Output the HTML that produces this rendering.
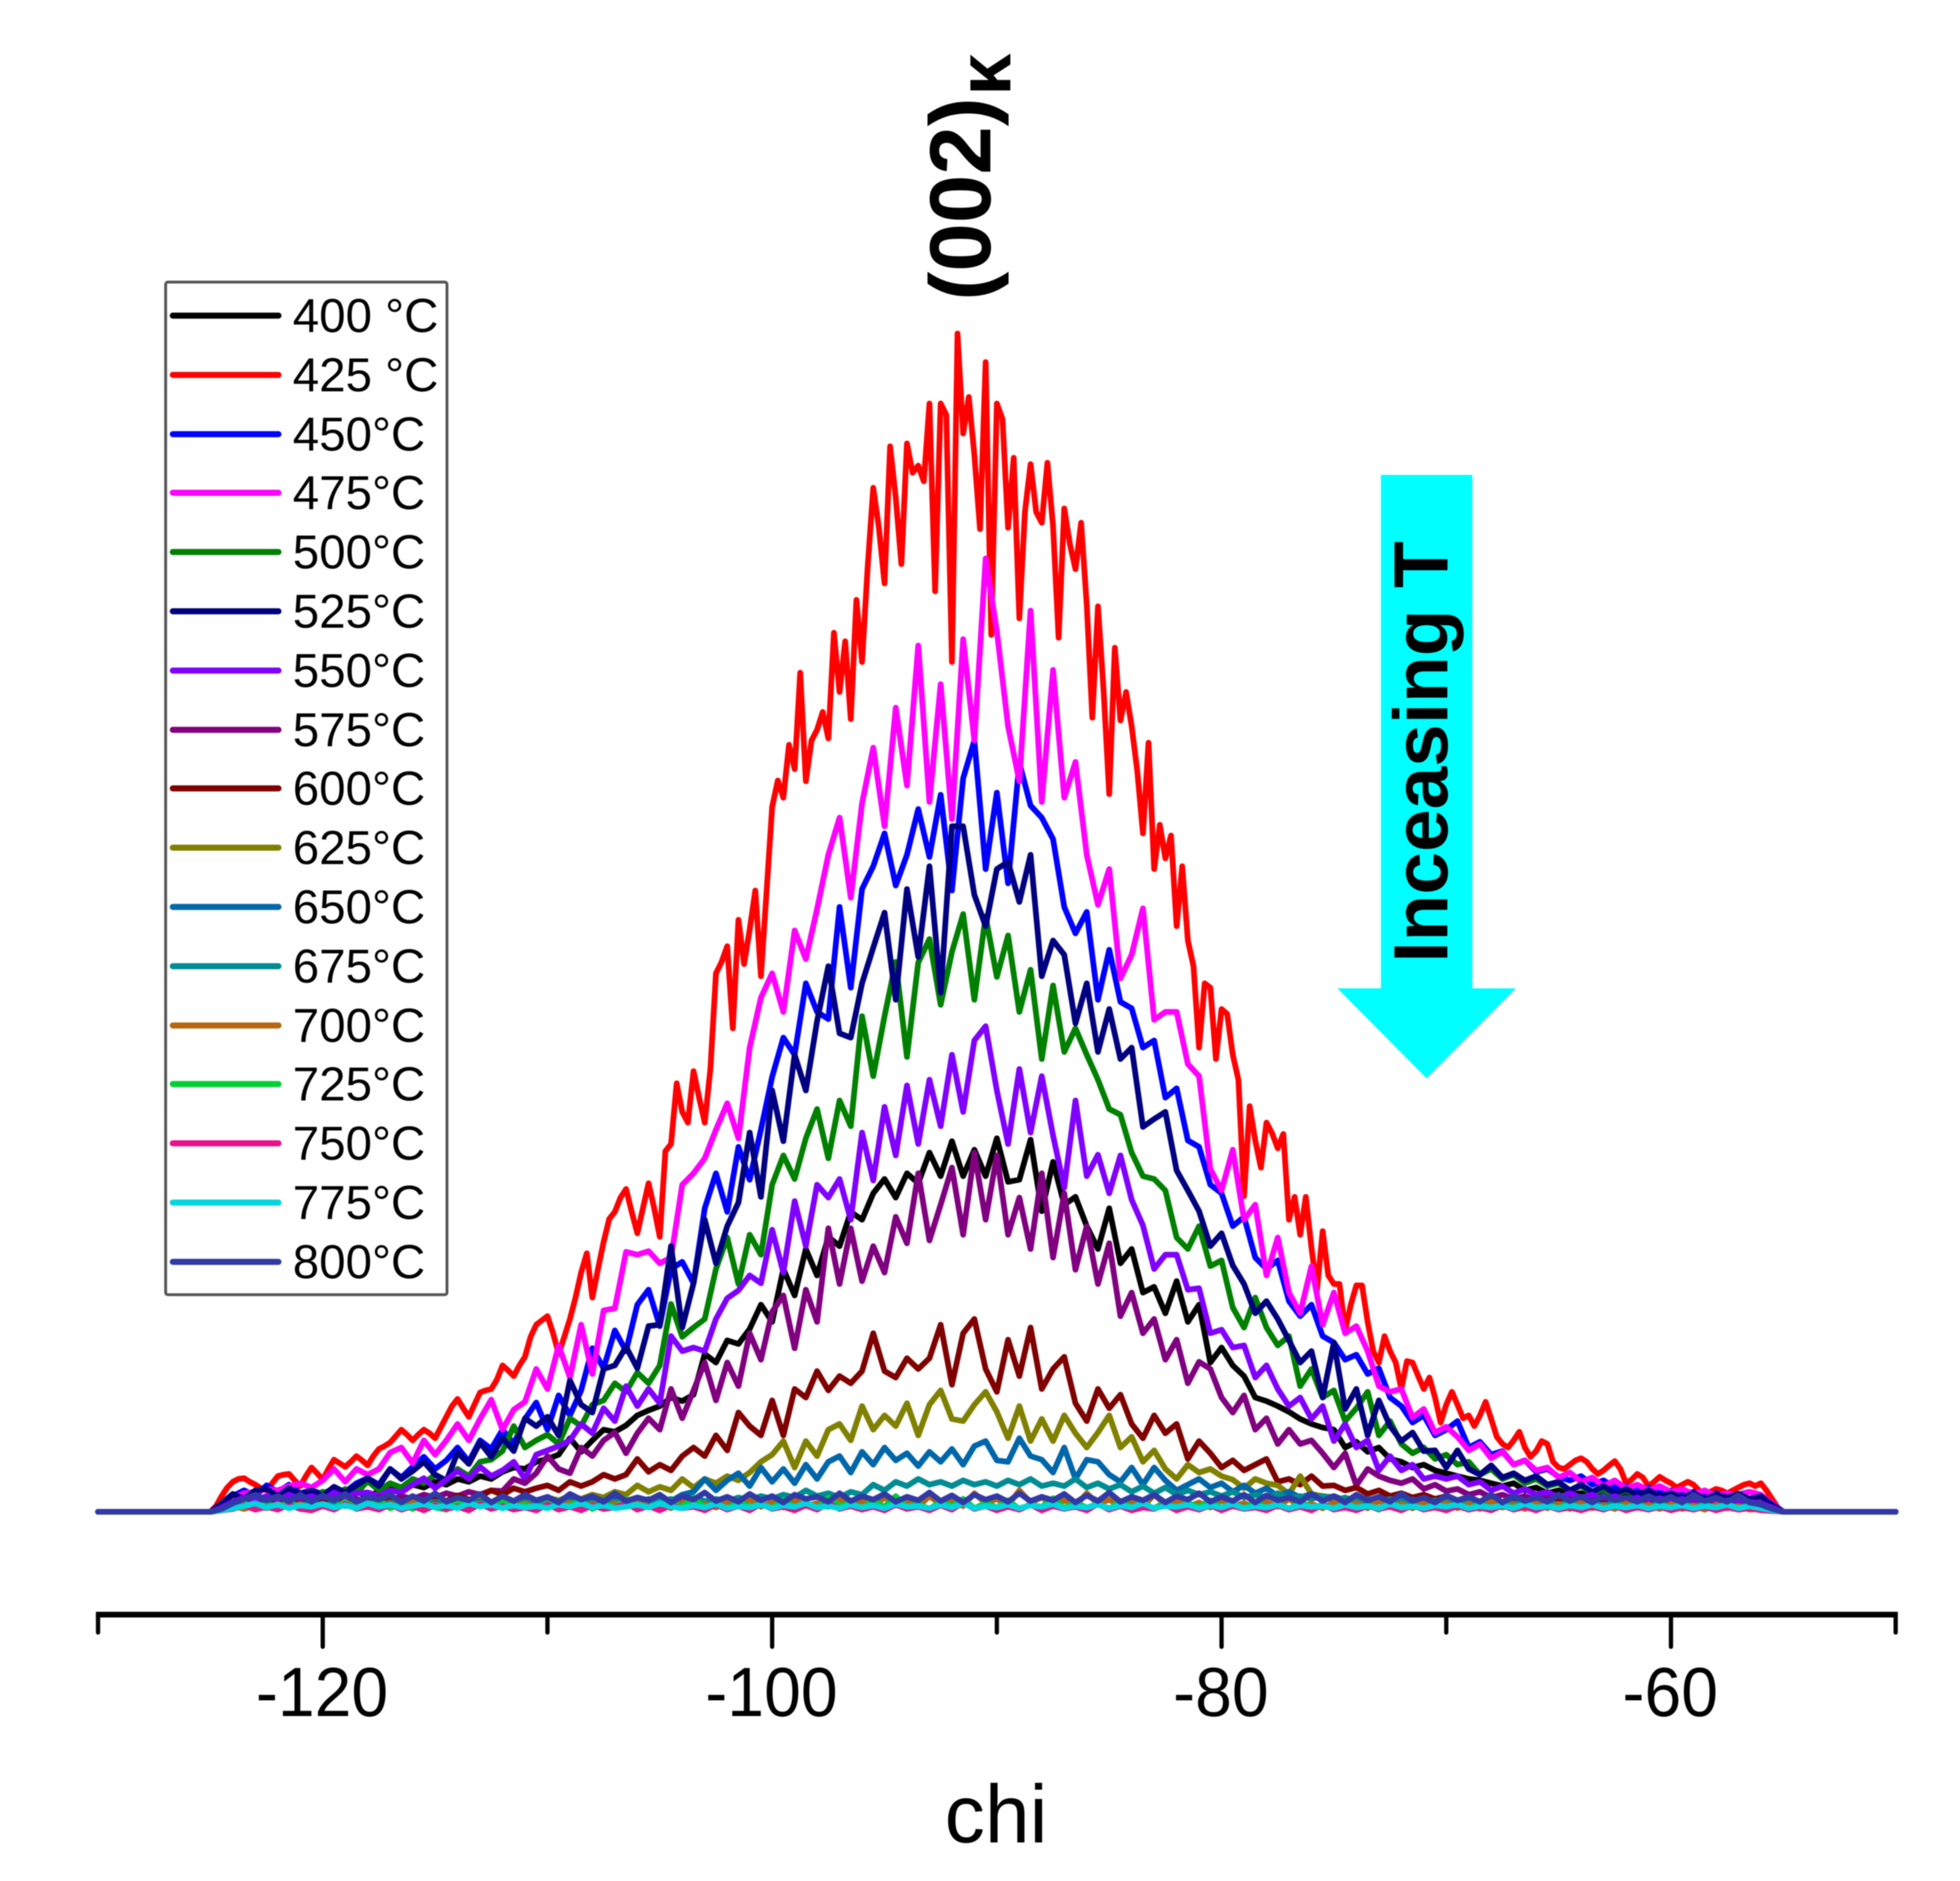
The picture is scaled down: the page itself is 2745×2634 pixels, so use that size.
<!DOCTYPE html>
<html lang="en">
<head>
<meta charset="utf-8">
<title>(002) chi scans with increasing temperature</title>
<style>
  html, body { margin: 0; padding: 0; background: #ffffff; }
  svg { display: block; filter: blur(0.7px); }
  text { font-family: "Liberation Sans", "DejaVu Sans", sans-serif; fill: #000; }
</style>
</head>
<body>
<svg id="chart" xmlns="http://www.w3.org/2000/svg" width="2745" height="2634" viewBox="0 0 2745 2634">
  <rect x="0" y="0" width="2745" height="2634" fill="#ffffff"/>
  <g id="series-layer"></g>
  <g id="axis-layer"></g>

  <text transform="translate(1395,2580) scale(.98,1)" text-anchor="middle" font-size="115">chi</text>

  <text transform="translate(1387,421) rotate(-90)" font-size="122" font-weight="bold">(002)</text>
  <text transform="translate(1415,134) rotate(-90)" font-size="106" font-weight="bold">κ</text>

  <polygon fill="#00ffff" points="1934,665 2062,665 2062,1384 2123,1384 1998,1510 1873,1384 1934,1384"/>
  <text transform="translate(2027,1348) rotate(-90)" font-size="108" font-weight="bold" textLength="590" lengthAdjust="spacingAndGlyphs">Inceasing T</text>

  <g>
    <rect x="232" y="395" width="394" height="1418" rx="3" fill="#ffffff" stroke="#555555" stroke-width="4"/>
    <g stroke-width="8.5" stroke-linecap="round" font-size="66.5">
      <line x1="242" x2="390" y1="442" y2="442" stroke="#000000"/>
      <text x="410" y="465" stroke="none">400 °C</text>
      <line x1="242" x2="390" y1="525" y2="525" stroke="#ff0000"/>
      <text x="410" y="548" stroke="none">425 °C</text>
      <line x1="242" x2="390" y1="608" y2="608" stroke="#0000ff"/>
      <text x="410" y="631" stroke="none">450°C</text>
      <line x1="242" x2="390" y1="690" y2="690" stroke="#ff00ff"/>
      <text x="410" y="713" stroke="none">475°C</text>
      <line x1="242" x2="390" y1="773" y2="773" stroke="#008000"/>
      <text x="410" y="796" stroke="none">500°C</text>
      <line x1="242" x2="390" y1="856" y2="856" stroke="#000080"/>
      <text x="410" y="879" stroke="none">525°C</text>
      <line x1="242" x2="390" y1="939" y2="939" stroke="#8000ff"/>
      <text x="410" y="962" stroke="none">550°C</text>
      <line x1="242" x2="390" y1="1022" y2="1022" stroke="#800080"/>
      <text x="410" y="1045" stroke="none">575°C</text>
      <line x1="242" x2="390" y1="1104" y2="1104" stroke="#800000"/>
      <text x="410" y="1127" stroke="none">600°C</text>
      <line x1="242" x2="390" y1="1187" y2="1187" stroke="#808000"/>
      <text x="410" y="1210" stroke="none">625°C</text>
      <line x1="242" x2="390" y1="1270" y2="1270" stroke="#0066aa"/>
      <text x="410" y="1293" stroke="none">650°C</text>
      <line x1="242" x2="390" y1="1353" y2="1353" stroke="#008c94"/>
      <text x="410" y="1376" stroke="none">675°C</text>
      <line x1="242" x2="390" y1="1436" y2="1436" stroke="#b5660f"/>
      <text x="410" y="1459" stroke="none">700°C</text>
      <line x1="242" x2="390" y1="1518" y2="1518" stroke="#00d033"/>
      <text x="410" y="1541" stroke="none">725°C</text>
      <line x1="242" x2="390" y1="1601" y2="1601" stroke="#e9118a"/>
      <text x="410" y="1624" stroke="none">750°C</text>
      <line x1="242" x2="390" y1="1684" y2="1684" stroke="#00d6de"/>
      <text x="410" y="1707" stroke="none">775°C</text>
      <line x1="242" x2="390" y1="1767" y2="1767" stroke="#3139a6"/>
      <text x="410" y="1790" stroke="none">800°C</text>
    </g>
  </g>
</svg>

<script>
const majorTicks = [-120, -100, -80, -60];
const minorTicks = [-130, -110, -90, -70, -50];
const temperatures = [400, 425, 450, 475, 500, 525, 550, 575, 600, 625, 650, 675, 700, 725, 750, 775, 800];

const series400 = [
0,5,12,16,12,18,14,20,15,22,
16,24,20,28,22,28,34,30,38,34,
42,38,46,42,50,46,56,62,60,70,
74,80,103,84,100,115,112,121,135,142,
148,160,155,164,221,209,240,235,256,290,
266,340,303,368,331,385,372,420,409,446,
466,440,474,460,503,470,519,470,507,470,
523,462,465,521,421,490,430,441,400,368,
425,348,368,307,315,278,323,266,290,209,
230,205,190,160,155,148,140,130,123,118,
115,90,98,84,90,74,70,62,66,58,
54,50,46,44,40,36,40,30,34,26,
30,24,26,20,24,18,22,16,20,15,
18,13,16,12,14,11,13,10,12,6,0];

const series425 = [
0,8,22,34,42,46,47,42,38,33,30,40,50,52,53,44,36,50,62,54,45,60,73,68,63,70,78,72,65,78,88,92,97,106,115,108,100,108,115,110,
103,118,133,148,158,145,133,150,167,170,172,185,205,198,190,205,217,245,262,268,274,250,221,245,270,300,335,362,300,340,378,410,420,440,452,420,390,425,460,425,
385,505,515,600,560,545,617,580,545,620,754,770,792,677,829,767,815,870,750,867,987,1024,1000,1074,1040,1175,1023,1080,1095,1120,1083,1231,1148,1219,1110,1277,1190,1322,1434,1378,
1300,1492,1420,1327,1496,1455,1465,1443,1552,1289,1552,1536,1190,1650,1510,1561,1480,1376,1610,1228,1552,1530,1378,1476,1251,1400,1467,1400,1385,1469,1380,1224,1405,1355,1320,1385,1270,1112,1268,1150,
1005,1210,1108,1148,1100,1037,950,1077,900,962,915,947,820,904,800,764,650,740,734,634,704,697,640,605,442,568,520,482,545,530,509,529,409,441,388,441,370,311,393,331,
319,319,254,290,317,317,266,225,209,246,225,209,172,211,209,190,172,188,160,125,150,168,150,131,135,120,135,154,130,105,95,90,100,112,90,77,85,99,95,70,
62,60,66,72,75,70,60,53,58,65,71,60,40,45,53,48,36,42,49,44,40,34,38,42,38,30,25,28,32,30,26,30,34,38,40,36,40,30,18,6,0];

const series450 = [
0,8,22,30,22,37,28,38,26,30,
25,33,28,40,47,38,60,48,63,77,
60,72,90,70,100,88,115,95,130,153,
115,163,135,170,229,201,254,225,290,311,
260,340,350,320,425,474,420,511,465,535,
609,664,640,740,700,690,847,734,872,904,
950,877,920,984,917,1004,870,1027,1080,900,
1007,880,1049,989,972,942,847,810,840,717,
787,714,705,650,660,580,593,520,511,458,
446,400,413,356,340,352,295,274,290,246,
237,213,220,193,201,160,148,125,135,107,
115,127,90,98,80,85,66,72,56,60,
49,44,50,38,44,34,36,31,34,26,
30,24,28,22,26,20,24,28,22,12,0];

const series475 = [
0,10,20,26,28,32,30,36,40,34,
44,60,42,60,52,60,83,90,68,100,
80,100,123,100,130,157,115,143,154,200,
172,233,188,262,193,282,285,364,360,365,
348,356,458,474,495,535,572,523,650,720,
754,700,814,774,844,920,972,860,992,1070,
960,1126,1017,1213,994,1159,970,1222,1080,1335,
1233,1100,1023,1262,994,1179,1000,1050,920,850,
900,747,780,845,689,700,700,627,610,480,
450,507,409,430,331,384,307,278,344,262,
307,250,260,225,176,168,172,132,144,111,
119,105,86,95,75,84,66,72,58,62,
48,55,42,48,36,44,33,38,30,36,
28,32,25,30,22,26,22,28,24,12,0];

const series500 = [
0,8,16,20,18,18,22,20,26,20,
28,22,32,26,43,30,40,34,46,40,
52,44,60,50,70,73,85,120,90,100,
108,95,131,120,150,156,180,168,195,180,
205,291,245,258,270,340,384,319,388,360,
458,499,466,523,564,495,576,540,694,610,
694,770,637,769,802,710,784,837,717,834,
749,807,700,759,634,737,644,677,640,605,
564,556,503,470,466,450,384,368,400,344,
352,286,258,300,258,233,246,176,200,160,
170,127,145,168,107,127,95,82,90,74,
80,66,70,52,60,46,52,40,46,36,
40,30,36,26,32,24,30,22,26,20,
24,18,22,16,20,15,20,14,18,8,0];

const series525 = [
0,12,25,18,30,32,22,33,24,30,
22,35,27,37,47,36,60,46,57,70,
52,43,83,67,97,77,103,85,131,120,
133,107,184,150,139,200,205,231,201,260,
262,372,258,320,409,348,400,433,531,441,
590,519,640,590,687,764,670,664,740,790,
839,717,872,777,904,727,960,960,864,820,
900,910,854,920,750,800,780,684,740,644,
704,634,650,539,550,560,478,450,421,372,
390,345,319,278,295,270,240,209,225,160,
237,144,172,107,156,120,99,111,85,86,
62,86,60,52,65,48,54,44,50,38,
42,30,38,28,36,26,32,24,30,22,
26,20,26,18,24,20,25,18,22,10,0];

const series550 = [
0,6,14,20,16,22,16,24,18,22,
16,27,20,26,27,22,30,27,38,47,
33,45,57,46,63,50,58,70,46,80,
86,92,100,123,110,145,127,176,148,172,
152,246,225,230,225,270,299,310,331,320,
395,335,435,372,458,440,466,409,531,464,
567,499,597,515,605,540,640,560,660,680,
590,515,620,531,610,527,454,576,470,500,
446,499,437,401,340,360,360,311,313,250,
255,230,233,188,205,172,148,160,130,148,
99,123,90,100,58,78,58,66,46,50,
46,50,38,42,30,36,26,32,24,28,
20,26,20,24,18,22,16,20,15,19,
14,18,13,16,13,16,12,14,12,6,0];

const series575 = [
0,4,9,13,10,14,10,16,11,15,
11,16,13,18,14,20,16,22,18,24,
20,26,22,28,24,30,29,46,40,54,
78,60,54,90,78,100,111,82,110,131,
115,172,131,170,209,156,209,176,250,213,
280,303,229,311,266,397,319,397,323,372,
335,413,376,474,380,430,482,388,503,409,
499,388,440,368,474,356,446,339,400,319,
376,274,307,250,270,213,241,180,210,200,
160,139,163,115,131,95,115,95,100,82,
62,82,37,60,50,44,40,46,32,38,
29,32,24,28,20,24,18,22,16,20,
14,18,13,16,12,15,11,14,10,13,
9,12,9,12,8,11,8,10,8,4,0];

const series600 = [
0,3,8,6,10,7,11,8,12,9,
13,10,14,11,15,12,16,13,17,14,
18,15,23,17,22,30,24,33,28,33,
37,30,42,36,42,52,46,52,74,56,
66,58,78,90,78,107,86,139,120,107,
156,107,172,160,197,170,190,180,197,250,
197,188,215,200,215,262,178,250,270,200,
168,241,190,258,172,200,217,152,127,172,
145,164,123,103,135,110,123,74,99,82,
62,72,58,66,74,42,46,38,50,36,
37,30,34,25,30,22,26,20,24,18,
22,16,20,14,18,13,16,12,15,11,
14,10,13,9,12,9,11,8,10,7,
10,7,9,6,9,6,8,5,4,2,0];

const series625 = [
0,3,10,6,9,6,10,7,11,8,
11,8,12,9,12,9,13,10,14,11,
14,11,15,12,16,13,17,14,18,15,
20,16,22,18,24,20,28,24,37,28,
35,30,46,34,46,40,50,44,55,70,
80,99,62,99,78,115,123,100,148,115,
135,120,152,107,150,170,130,127,150,168,
140,103,148,99,130,99,135,110,90,111,
135,90,105,70,86,60,46,66,55,60,
50,45,33,46,40,37,25,50,25,22,
20,16,18,14,17,13,16,12,15,11,
14,10,13,9,12,9,12,8,11,8,
11,8,10,7,10,7,9,6,9,6,
9,6,8,6,8,5,8,6,4,2,0];

const series650 = [
0,2,7,5,8,5,9,6,10,7,
10,7,11,8,11,8,12,9,12,9,
13,10,13,10,14,11,14,11,15,12,
15,12,16,13,17,14,18,14,20,16,
18,15,24,28,46,30,44,54,36,62,
42,60,40,66,46,70,78,55,84,66,
90,72,82,64,84,70,88,66,92,99,
72,70,103,78,73,55,90,46,73,70,
52,42,62,38,62,44,30,38,46,34,
40,28,37,26,33,22,28,20,25,18,
22,16,20,14,18,13,17,12,15,11,
14,10,13,9,12,9,12,8,11,8,
11,8,10,7,10,7,9,6,9,6,
9,6,8,6,8,5,8,6,4,2,0];

const series675 = [
0,2,6,10,7,11,8,12,8,12,
8,12,8,13,9,12,9,13,9,14,
10,14,10,15,10,14,11,15,11,16,
11,15,12,16,12,17,13,16,13,18,
14,18,14,20,15,18,15,20,16,22,
18,24,20,30,22,26,20,28,24,38,
30,42,36,46,38,42,36,44,38,42,
36,44,38,46,36,40,36,46,34,40,
32,38,28,36,26,34,24,30,24,28,
22,28,20,24,20,26,18,22,18,22,
16,20,15,18,15,18,14,17,13,16,
13,15,12,15,11,14,11,13,10,13,
10,13,10,12,9,12,9,11,8,11,
8,11,8,10,7,10,7,9,5,2,0];

const series700 = [
0,2,8,4,9,5,11,6,10,5,
9,5,12,6,10,4,11,6,13,5,
10,4,12,7,10,5,14,7,12,6,
10,5,13,6,11,4,12,7,14,6,
12,5,16,7,11,6,14,8,17,7,
13,6,16,8,12,7,18,9,14,8,
20,9,14,7,22,10,15,8,26,12,
18,9,30,13,20,10,16,8,26,11,
17,8,14,7,24,10,15,7,13,6,
16,8,12,6,14,7,18,8,11,5,
13,6,12,5,15,7,11,5,13,6,
12,5,11,4,14,6,10,4,12,5,
11,4,13,5,9,4,12,6,10,4,
11,4,9,3,10,5,8,3,4,2,0];

const series725 = [
0,3,6,12,5,10,4,13,6,3,
10,5,14,4,9,16,5,11,4,12,
6,3,13,7,12,4,16,6,10,3,
12,5,9,15,4,11,6,18,5,10,
4,13,7,20,6,12,4,15,7,11,
5,17,6,13,4,20,8,12,5,15,
7,22,6,11,4,14,8,18,5,12,
6,16,4,10,7,19,5,13,6,11,
4,15,6,10,5,13,3,12,7,16,
5,11,4,14,6,9,3,15,5,10,
4,12,6,9,3,13,5,8,4,11,
5,10,3,12,4,8,6,11,3,9,
5,12,4,8,3,10,5,9,3,11,
4,8,3,10,5,9,3,8,4,2,0];

const series750 = [
0,2,4,9,3,7,3,10,4,2,
8,3,11,4,7,3,10,3,8,2,
9,4,7,2,11,4,8,3,6,2,
10,3,7,2,9,4,6,12,3,8,
2,9,5,7,2,10,3,8,2,11,
4,7,2,9,3,12,4,8,3,7,
2,10,4,7,2,9,3,13,4,8,
2,7,3,10,2,8,4,7,2,11,
3,8,2,6,4,10,2,7,3,9,
2,8,4,6,2,9,3,7,2,10,
3,6,2,8,4,7,2,9,3,6,
2,8,3,6,2,9,3,7,2,8,
3,6,2,7,3,8,2,6,3,7,
2,6,3,7,2,6,3,5,2,1,0];

const series775 = [
0,2,5,8,12,6,10,5,9,7,
11,6,9,5,12,7,10,5,8,11,
6,9,5,12,7,10,5,9,6,8,
5,10,7,12,6,9,5,7,10,6,
12,7,5,9,6,11,5,8,6,10,
5,9,7,12,6,8,5,10,6,9,
5,11,7,8,5,10,6,12,5,8,
6,10,5,9,7,11,5,8,6,10,
5,9,6,12,5,8,7,10,5,9,
6,11,5,8,6,10,5,9,7,8,
5,10,6,8,5,11,6,8,5,9,
7,10,5,8,6,9,5,11,6,8,
5,9,6,10,5,8,6,9,5,8,
6,9,5,8,6,10,5,8,5,2,0];

const series800 = [
0,4,12,18,24,16,22,15,24,14,
23,16,25,14,21,17,24,13,22,15,
26,14,20,16,25,13,22,15,24,16,
21,13,25,17,22,14,26,15,20,16,
24,13,22,17,27,15,21,14,25,16,
22,13,24,18,21,14,26,15,22,17,
25,14,21,16,27,15,23,13,24,17,
22,14,26,15,21,16,25,13,23,15,
27,14,21,16,24,13,22,17,26,14,
21,15,24,13,23,16,20,14,25,15,
22,13,24,16,21,14,25,15,20,13,
23,16,21,14,24,13,22,15,20,14,
24,15,21,13,23,16,20,14,22,15,
21,13,24,15,20,14,23,13,10,4,0];

const seriesValues = [series400, series425, series450, series475, series500, series525, series550, series575, series600, series625, series650, series675, series700, series725, series750, series775, series800];
const seriesColors = ["#000000", "#ff0000", "#0000ff", "#ff00ff", "#008000", "#000080", "#8000ff", "#800080", "#800000", "#808000", "#0066aa", "#008c94", "#b5660f", "#00d033", "#e9118a", "#00d6de", "#3139a6"];

const SVG_NS = "http://www.w3.org/2000/svg";
const CHI_MIN = -130, CHI_MAX = -50, SCAN_START = -125, SCAN_END = -55;
const xOf = function (chi) { return 452 + (chi + 120) * 31.47; };
const yOf = function (v) { return 2117 - v; };

const seriesLayer = document.getElementById("series-layer");
seriesValues.forEach(function (values, s) {
  const pts = [[CHI_MIN, 0]];
  values.forEach(function (v, i) {
    pts.push([SCAN_START + (SCAN_END - SCAN_START) * i / (values.length - 1), v]);
  });
  pts.push([CHI_MAX, 0]);
  const d = pts.map(function (p, i) {
    return (i ? "L" : "M") + xOf(p[0]).toFixed(1) + " " + yOf(p[1]).toFixed(1);
  }).join("");
  const path = document.createElementNS(SVG_NS, "path");
  path.setAttribute("d", d);
  path.setAttribute("fill", "none");
  path.setAttribute("stroke", seriesColors[s]);
  path.setAttribute("stroke-width", "8");
  path.setAttribute("stroke-linejoin", "round");
  path.setAttribute("stroke-linecap", "round");
  
  
  seriesLayer.appendChild(path);
});

const axisLayer = document.getElementById("axis-layer");
const axisY = 2261;
const axisLine = document.createElementNS(SVG_NS, "line");
axisLine.setAttribute("x1", xOf(CHI_MIN) - 3);
axisLine.setAttribute("x2", xOf(CHI_MAX) + 3);
axisLine.setAttribute("y1", axisY);
axisLine.setAttribute("y2", axisY);
axisLine.setAttribute("stroke", "#000");
axisLine.setAttribute("stroke-width", "8");


axisLayer.appendChild(axisLine);

minorTicks.forEach(function (v) {
  const t = document.createElementNS(SVG_NS, "line");
  t.setAttribute("x1", xOf(v));
  t.setAttribute("x2", xOf(v));
  t.setAttribute("y1", axisY);
  t.setAttribute("y2", axisY + 25);
  t.setAttribute("stroke", "#000");
  t.setAttribute("stroke-width", "6");
  t.setAttribute("stroke-linecap", "round");
  
  
  axisLayer.appendChild(t);
});

majorTicks.forEach(function (v) {
  const t = document.createElementNS(SVG_NS, "line");
  t.setAttribute("x1", xOf(v));
  t.setAttribute("x2", xOf(v));
  t.setAttribute("y1", axisY);
  t.setAttribute("y2", axisY + 45);
  t.setAttribute("stroke", "#000");
  t.setAttribute("stroke-width", "6");
  t.setAttribute("stroke-linecap", "round");
  
  
  axisLayer.appendChild(t);

  const label = document.createElementNS(SVG_NS, "text");
  label.setAttribute("transform", "translate(" + (xOf(v) - 1) + ",2403) scale(.955,1)");
  label.setAttribute("text-anchor", "middle");
  label.setAttribute("font-size", "97");
  label.textContent = String(v);
  
  
  axisLayer.appendChild(label);
});
</script>
</body>
</html>
